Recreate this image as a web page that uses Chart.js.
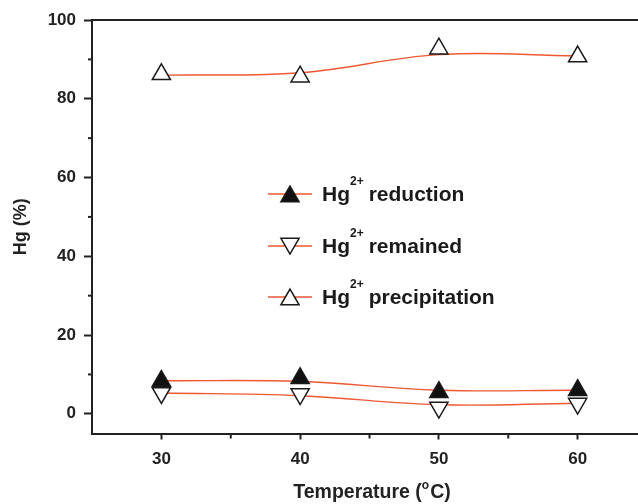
<!DOCTYPE html>
<html>
<head>
<meta charset="utf-8">
<script src="https://cdn.jsdelivr.net/npm/chart.js@4/dist/chart.umd.min.js"></script>
<style>
  html, body { margin: 0; padding: 0; background: #fff; overflow: hidden; }
  canvas { display: block; }
</style>
</head>
<body>
<canvas id="myChart" width="638" height="504"></canvas>
<script>
const temperatures = [30, 40, 50, 60];
// measured points (markers)
const reduction = [8.3, 9.0, 5.5, 6.0];
const remained = [5.3, 5.0, 1.6, 2.6];
const precipitation = [86.2, 85.6, 92.7, 90.7];
// smoothed curves at the same temperatures
const reductionCurve = [8.4, 8.2, 6.0, 6.0];
const remainedCurve = [5.3, 4.6, 2.3, 2.7];
const precipitationCurve = [86.0, 86.6, 91.2, 90.9];
const xTicks = [30, 40, 50, 60];
const xMinorTicks = [35, 45, 55];
const yTicks = [0, 20, 40, 60, 80, 100];
const yMinorTicks = [10, 30, 50, 70, 90];
const legendNames = ['reduction', 'remained', 'precipitation'];

const lineColor = 'rgb(238, 88, 50)';
const axisColor = '#222';
const fontFamily = '"Liberation Sans", Arial, sans-serif';

const toPoints = (values) => temperatures.map((t, i) => ({ x: t, y: values[i] }));

const markers = [
  { fill: '#111', rotation: 0 },
  { fill: '#fff', rotation: 180 },
  { fill: '#fff', rotation: 0 },
];

const curveDataset = (values) => ({
  data: toPoints(values),
  borderColor: lineColor,
  borderWidth: 1.4,
  tension: 0.4,
  pointRadius: 0,
  pointHoverRadius: 0,
  order: 2,
});

const markerDataset = (label, values, marker) => ({
  label,
  data: toPoints(values),
  showLine: false,
  pointStyle: 'triangle',
  pointRotation: marker.rotation,
  pointRadius: 10.5,
  pointHoverRadius: 10.5,
  pointBorderWidth: 1.5,
  pointBorderColor: '#1a1a1a',
  pointBackgroundColor: marker.fill,
  order: 1,
});

// triangle drawn the way chart.js does it (centroid at x, y)
const drawTriangle = (ctx, x, y, r, rotationDeg, fill) => {
  let rad = rotationDeg * Math.PI / 180;
  ctx.beginPath();
  for (let k = 0; k < 3; k++) {
    const px = x + Math.sin(rad) * r;
    const py = y - Math.cos(rad) * r;
    if (k === 0) ctx.moveTo(px, py); else ctx.lineTo(px, py);
    rad += 2 * Math.PI / 3;
  }
  ctx.closePath();
  ctx.fillStyle = fill;
  ctx.fill();
  ctx.lineWidth = 1.5;
  ctx.strokeStyle = '#1a1a1a';
  ctx.stroke();
};

const extrasPlugin = {
  id: 'extras',
  afterDraw(chart) {
    const { ctx, chartArea, scales } = chart;
    ctx.save();
    // top frame line
    ctx.strokeStyle = axisColor;
    ctx.lineWidth = 2;
    ctx.beginPath();
    ctx.moveTo(chartArea.left - 1, chartArea.top);
    ctx.lineTo(chartArea.right, chartArea.top);
    ctx.stroke();

    // minor ticks
    xMinorTicks.forEach((v) => {
      const px = scales.x.getPixelForValue(v);
      ctx.beginPath();
      ctx.moveTo(px, chartArea.bottom);
      ctx.lineTo(px, chartArea.bottom + 5);
      ctx.stroke();
    });
    yMinorTicks.forEach((v) => {
      const py = scales.y.getPixelForValue(v);
      ctx.beginPath();
      ctx.moveTo(chartArea.left, py);
      ctx.lineTo(chartArea.left - 4, py);
      ctx.stroke();
    });

    // x axis title with superscript o
    ctx.fillStyle = '#222';
    ctx.textBaseline = 'alphabetic';
    ctx.textAlign = 'left';
    const big = `bold 19.5px ${fontFamily}`;
    const small = `bold 12px ${fontFamily}`;
    ctx.font = big;
    const w1 = ctx.measureText('Temperature (').width;
    const w3 = ctx.measureText('C)').width;
    ctx.font = small;
    const w2 = ctx.measureText('o').width + 1;
    let tx = 372 - (w1 + w2 + w3) / 2;
    const tb = 498;
    ctx.font = big;
    ctx.fillText('Temperature (', tx, tb);
    tx += w1;
    ctx.font = small;
    ctx.fillText('o', tx, tb - 9);
    tx += w2;
    ctx.font = big;
    ctx.fillText('C)', tx, tb);

    // legend
    const rowsY = [194, 246, 297];
    legendNames.forEach((name, i) => {
      const y = rowsY[i];
      ctx.strokeStyle = lineColor;
      ctx.lineWidth = 1.4;
      ctx.beginPath();
      ctx.moveTo(268, y);
      ctx.lineTo(312, y);
      ctx.stroke();
      const m = markers[i];
      drawTriangle(ctx, 290, y + (m.rotation ? -2.5 : 2.5), 10.5, m.rotation, m.fill);

      ctx.fillStyle = '#1a1a1a';
      let x = 322;
      const base = y + 6.5;
      ctx.font = `bold 21px ${fontFamily}`;
      ctx.fillText('Hg', x, base);
      x += ctx.measureText('Hg').width;
      ctx.font = `bold 12px ${fontFamily}`;
      ctx.fillText('2+', x, base - 15.5);
      x += ctx.measureText('2+').width + 5;
      ctx.font = `bold 21px ${fontFamily}`;
      ctx.fillText(name, x, base);
    });
    ctx.restore();
  },
};

new Chart(document.getElementById('myChart').getContext('2d'), {
  type: 'line',
  data: {
    datasets: [
      markerDataset('Hg2+ reduction', reduction, markers[0]),
      markerDataset('Hg2+ remained', remained, markers[1]),
      markerDataset('Hg2+ precipitation', precipitation, markers[2]),
      curveDataset(reductionCurve),
      curveDataset(remainedCurve),
      curveDataset(precipitationCurve),
    ],
  },
  options: {
    responsive: false,
    animation: false,
    devicePixelRatio: 1,
    layout: { autoPadding: false, padding: { top: 20, right: 0, bottom: 0, left: 0 } },
    plugins: {
      legend: { display: false },
      tooltip: { enabled: false },
    },
    scales: {
      x: {
        type: 'linear',
        min: 25,
        max: 64.35,
        afterBuildTicks: (axis) => { axis.ticks = xTicks.map((v) => ({ value: v })); },
        afterFit: (scale) => {
          scale.height = 70.5;
          scale.paddingLeft = 0;
          scale.paddingRight = 0;
        },
        grid: { drawOnChartArea: false, drawTicks: true, tickLength: 6, tickWidth: 2, tickColor: axisColor },
        border: { display: true, color: axisColor, width: 2 },
        ticks: { color: '#222', padding: 10, font: { family: fontFamily, size: 17, weight: 'bold' } },
      },
      y: {
        min: -5,
        max: 100,
        afterBuildTicks: (axis) => { axis.ticks = yTicks.map((v) => ({ value: v })); },
        afterFit: (scale) => { scale.width = 92; },
        grid: { drawOnChartArea: false, drawTicks: true, tickLength: 8, tickWidth: 2, tickColor: axisColor },
        border: { display: true, color: axisColor, width: 2 },
        ticks: { color: '#222', padding: 8, font: { family: fontFamily, size: 17, weight: 'bold' } },
        title: {
          display: true,
          text: 'Hg (%)',
          color: '#222',
          padding: { top: 10, bottom: 10 },
          font: { family: fontFamily, size: 18, weight: 'bold' },
        },
      },
    },
  },
  plugins: [extrasPlugin],
});
</script>
</body>
</html>
